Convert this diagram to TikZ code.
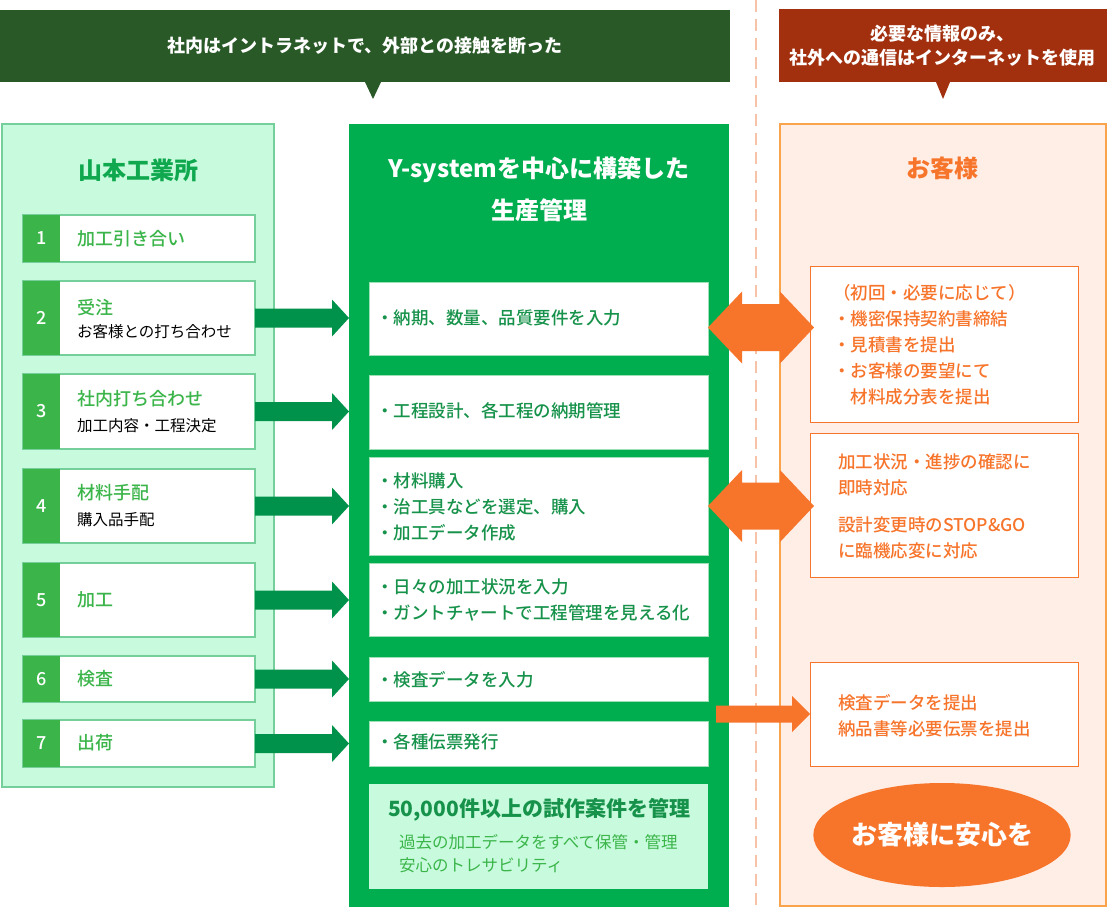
\documentclass[tikz,border=0pt]{standalone}
\usepackage{fontspec}
\setmainfont{Noto Sans CJK JP}
\newfontfamily\medfont{Noto Sans CJK JP Medium}
\usetikzlibrary{calc,shapes.geometric}
\definecolor{bannerG}{HTML}{2A5928}
\definecolor{bannerB}{HTML}{A2300E}
\definecolor{mintFill}{HTML}{C8FBDD}
\definecolor{mintLine}{HTML}{74CF9A}
\definecolor{numG}{HTML}{3BB54A}
\definecolor{titleG}{HTML}{0FA84E}
\definecolor{arrG}{HTML}{00914A}
\definecolor{midG}{HTML}{00AE4F}
\definecolor{txtG}{HTML}{16924A}
\definecolor{innerLine}{HTML}{9EE0B5}
\definecolor{peach}{HTML}{FFEEE6}
\definecolor{peachLine}{HTML}{F9A34D}
\definecolor{orng}{HTML}{F7742B}
\definecolor{dashc}{HTML}{F6C2A8}
\newcommand\fs[2]{\fontsize{#1}{#2}\selectfont}
% green block arrow: shaft 19, head 37 x 17
\newcommand\garrow[2]{\fill[arrG] let \p1=(#1), \p2=(#2) in
  (\x1,\y1+9.5pt) -- (\x2-17pt,\y1+9.5pt) -- (\x2-17pt,\y1+18.5pt) -- (\x2,\y1)
  -- (\x2-17pt,\y1-18.5pt) -- (\x2-17pt,\y1-9.5pt) -- (\x1,\y1-9.5pt) -- cycle;}
% orange double block arrow: shaft 47, head 72 x 34
\newcommand\darrow[2]{\fill[orng] let \p1=(#1), \p2=(#2) in
  (\x1,\y1) -- (\x1+34pt,\y1+36pt) -- (\x1+34pt,\y1+23.5pt) -- (\x2-34pt,\y1+23.5pt)
  -- (\x2-34pt,\y1+36pt) -- (\x2,\y1) -- (\x2-34pt,\y1-36pt) -- (\x2-34pt,\y1-23.5pt)
  -- (\x1+34pt,\y1-23.5pt) -- (\x1+34pt,\y1-36pt) -- cycle;}
% orange single block arrow: shaft 17, head 36 x 18
\newcommand\oarrow[2]{\fill[orng] let \p1=(#1), \p2=(#2) in
  (\x1,\y1+8.5pt) -- (\x2-18pt,\y1+8.5pt) -- (\x2-18pt,\y1+18pt) -- (\x2,\y1)
  -- (\x2-18pt,\y1-18pt) -- (\x2-18pt,\y1-8.5pt) -- (\x1,\y1-8.5pt) -- cycle;}
\begin{document}
\begin{tikzpicture}[x=1pt,y=-1pt,
  t/.style={inner sep=0pt, outer sep=0pt, anchor=west, align=left},
  c/.style={inner sep=0pt, outer sep=0pt, anchor=center, align=center},
  panel/.style={inner sep=0pt, outer sep=0pt, anchor=north west},
  stepbox/.style={panel, draw=mintLine, line width=1.5pt, fill=white, minimum width=232pt},
  numsq/.style={fill=numG},
  mbox/.style={panel, draw=innerLine, line width=1pt, fill=white, minimum width=339pt},
  rbox/.style={panel, draw=orng, line width=1pt, fill=white, minimum width=268pt},
  steptitle/.style={t, text=numG, font=\medfont\fs{18}{18}},
  stepsub/.style={t, text=black, font=\fs{15.5}{15.5}},
  midtxt/.style={t, text=txtG, font=\medfont\fs{17.5}{26}},
  rtxt/.style={t, text=orng, font=\medfont\fs{17.5}{26}},
  num/.style={c, text=white, font=\medfont\fs{18}{18}}
]
\useasboundingbox (0,0) rectangle (1107,907);
\fill[white] (0,0) rectangle (1107,907);

% ---- banners ----
\node[panel, fill=bannerG, minimum width=730pt, minimum height=72pt] (bg) at (0,10) {};
\fill[bannerG] ($(bg.south west)+(365,0)$) -- ($(bg.south west)+(381,0)$) -- ($(bg.south west)+(373,17)$) -- cycle;
\node[c, text=white, font=\bfseries\fs{18}{18}] (bgt) at (bg.center) {社内はイントラネットで、外部との接触を断った};

\node[panel, fill=bannerB, minimum width=328pt, minimum height=73pt] (bb) at (779,9) {};
\fill[bannerB] ($(bb.south west)+(157,0)$) -- ($(bb.south west)+(171,0)$) -- ($(bb.south west)+(164,17)$) -- cycle;
\node[c, text=white, font=\bfseries\fs{18}{24}] (bbt) at (942,46) {必要な情報のみ、\\社外への通信はインターネットを使用};

% ---- dashed separator ----
\draw[dashc, line width=2pt, dash pattern=on 12pt off 7pt] (756,0) -- (756,907);

% ---- panels ----
\node[panel, draw=mintLine, line width=1.5pt, fill=mintFill, minimum width=272pt, minimum height=663pt] (left) at (2,124) {};
\node[panel, fill=midG, minimum width=380pt, minimum height=783pt] (mid) at (349,124) {};
\node[panel, draw=peachLine, line width=1.5pt, fill=peach, minimum width=326pt, minimum height=782pt] (right) at (780,124) {};

\node[c, text=titleG, font=\bfseries\fs{24}{24}] (lt) at (138,170) {山本工業所};
\node[c, text=white, font=\bfseries\fs{24}{42}] (mt) at (539,189) {Y-systemを中心に構築した\\生産管理};
\node[c, text=orng, font=\bfseries\fs{24}{24}] (rt) at (942,168) {お客様};

% ---- steps ----
\node[stepbox, minimum height=47pt] (s1) at (23,215) {};
\node[stepbox, minimum height=74pt] (s2) at (23,281) {};
\node[stepbox, minimum height=75pt] (s3) at (23,374) {};
\node[stepbox, minimum height=74pt] (s4) at (23,469) {};
\node[stepbox, minimum height=74pt] (s5) at (23,563) {};
\node[stepbox, minimum height=46pt] (s6) at (23,656) {};
\node[stepbox, minimum height=47pt] (s7) at (23,720) {};
\foreach \s in {s1,s2,s3,s4,s5,s6,s7}{
  \fill[numsq] (\s.north west) rectangle ($(\s.south west)+(37,0)$);
}
\node[num] (n1) at ($(s1.west)+(18.5,0)$) {1};
\node[num] (n2) at ($(s2.west)+(18.5,0)$) {2};
\node[num] (n3) at ($(s3.west)+(18.5,0)$) {3};
\node[num] (n4) at ($(s4.west)+(18.5,0)$) {4};
\node[num] (n5) at ($(s5.west)+(18.5,0)$) {5};
\node[num] (n6) at ($(s6.west)+(18.5,0)$) {6};
\node[num] (n7) at ($(s7.west)+(18.5,0)$) {7};

\node[steptitle] (s1t) at (77,239) {加工引き合い};
\node[steptitle] (s2t) at (77,308) {受注};
\node[stepsub] (s2s) at (77,332) {お客様との打ち合わせ};
\node[steptitle] (s3t) at (77,399) {社内打ち合わせ};
\node[stepsub] (s3s) at (77,426) {加工内容・工程決定};
\node[steptitle] (s4t) at (77,493) {材料手配};
\node[stepsub] (s4s) at (77,520) {購入品手配};
\node[steptitle] (s5t) at (77,600) {加工};
\node[steptitle] (s6t) at (77,679) {検査};
\node[steptitle] (s7t) at (77,743) {出荷};

% ---- middle boxes ----
\node[mbox, minimum height=73pt] (m1) at (369,282) {};
\node[mbox, minimum height=74pt] (m2) at (369,375) {};
\node[mbox, minimum height=98pt] (m3) at (369,457) {};
\node[mbox, minimum height=73pt] (m4) at (369,563) {};
\node[mbox, minimum height=44pt] (m5) at (369,657) {};
\node[mbox, minimum height=45pt] (m6) at (369,721) {};
\node[mbox, fill=mintFill, draw=none, minimum height=105pt] (m7) at (369,784) {};

\node[midtxt] (m1t) at (376,318) {・納期、数量、品質要件を入力};
\node[midtxt] (m2t) at (376,411) {・工程設計、各工程の納期管理};
\node[midtxt] (m3t) at (376,507) {・材料購入\\・治工具などを選定、購入\\・加工データ作成};
\node[midtxt] (m4t) at (376,600) {・日々の加工状況を入力\\・ガントチャートで工程管理を見える化};
\node[midtxt] (m5t) at (376,680) {・検査データを入力};
\node[midtxt] (m6t) at (376,742) {・各種伝票発行};
\node[t, text=txtG, font=\bfseries\fs{21}{21}] (m7t) at (388,810) {50,000件以上の試作案件を管理};
\node[t, text=numG, font=\fs{16.5}{23}] (m7s) at (399,853.5) {過去の加工データをすべて保管・管理\\安心のトレサビリティ};

% ---- right boxes ----
\node[rbox, minimum height=156pt] (r1) at (810,266) {};
\node[rbox, minimum height=144pt] (r2) at (810,433) {};
\node[rbox, minimum height=104pt] (r3) at (810,662) {};

\node[rtxt] (r1t) at (833,345) {（初回・必要に応じて）\\・機密保持契約書締結\\・見積書を提出\\・お客様の要望にて\\\hspace*{1em}材料成分表を提出};
\node[rtxt] (r2t) at (838,506) {加工状況・進捗の確認に\\即時対応\\[11pt]設計変更時のSTOP\&GO\\に臨機応変に対応};
\node[rtxt] (r3t) at (838,716) {検査データを提出\\納品書等必要伝票を提出};

\node[ellipse, fill=orng, minimum width=233pt, minimum height=104pt, inner sep=0pt, text=white, font=\bfseries\fs{26}{26}] (ell) at (942,835) {お客様に安心を};

% ---- connectors ----
\garrow{s2.east}{s2.east -| mid.west}
\garrow{s3.east}{s3.east -| mid.west}
\garrow{s4.east}{s4.east -| mid.west}
\garrow{s5.east}{s5.east -| mid.west}
\garrow{s6.east}{s6.east -| mid.west}
\garrow{s7.east}{s7.east -| mid.west}

\coordinate (d1) at ($(m1.east)+(0,9)$);
\coordinate (d1e) at ($(d1 -| r1.west)+(4,0)$);
\darrow{d1}{d1e}
\coordinate (d2e) at ($(m3.east -| r2.west)+(4,0)$);
\darrow{m3.east}{d2e}
\coordinate (o1) at ($(mid.east |- r3.west)+(-13,0)$);
\oarrow{o1}{r3.west}
\end{tikzpicture}
\end{document}
